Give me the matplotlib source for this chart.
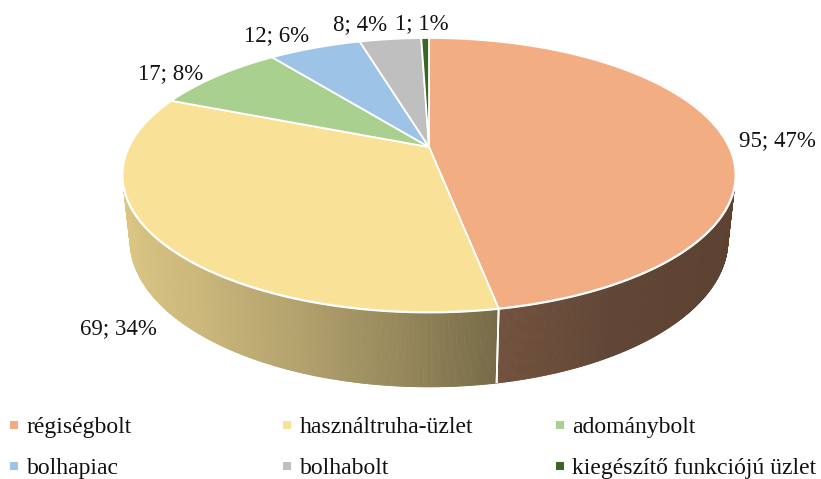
import numpy as np
import matplotlib
matplotlib.use("Agg")
import matplotlib.pyplot as plt
from matplotlib.patches import Polygon
from matplotlib.collections import PolyCollection
from matplotlib.colors import to_rgb

# ---------------- data ----------------
categories = ["régiségbolt", "használtruha-üzlet", "adománybolt",
              "bolhapiac", "bolhabolt", "kiegészítő funkciójú üzlet"]
values = [95, 69, 17, 12, 8, 1]
percents = [47, 34, 8, 6, 4, 1]

# ---------------- style ----------------
top_colors = ["#F2AD83", "#F9E197", "#A9D08E", "#9DC3E6", "#BFBFBF", "#3B6427"]
# label nudges (pixels, screen) relative to projected mid-angle point
label_nudge = [(55, 4), (-44, 84), (-46, -4), (-38, -14), (-30, -16), (-3, -16)]
FONT = ["Liberation Serif", "DejaVu Serif"]

W, H = 821, 479
fig = plt.figure(figsize=(W / 100, H / 100), dpi=100)
ax = fig.add_axes([0, 0, 1, 1])
ax.set_xlim(0, W)
ax.set_ylim(H, 0)
ax.axis("off")

# perspective camera for the 3D pie
CX, CY = 429.0, 147.0
ALPHA = np.arcsin(0.4377)
LDIST = 4.397
FOC = 1319.0
THICK = 0.242


def proj(X, Z, Y=0.0):
    den = LDIST + Z * np.cos(ALPHA) - Y * np.sin(ALPHA)
    x = FOC * X / den
    yup = FOC * (Y * np.cos(ALPHA) + Z * np.sin(ALPHA)) / den
    return CX + x, CY - yup


total = float(sum(values))
cum = np.concatenate([[0], np.cumsum(values)])
theta = 90.0 - cum / total * 360.0  # clockwise from 12 o'clock

# visible side range (degrees, mod 360)
smin = -1.0 / (LDIST * np.cos(ALPHA))
vis_lo = 180 + np.degrees(np.arcsin(-smin))
vis_hi = 360 - np.degrees(np.arcsin(-smin))


def shade(phi):
    return np.interp(phi, [190, 205, 228, 249, 266, 281, 300, 346, 360],
                     [0.88, 0.87, 0.82, 0.72, 0.60, 0.47, 0.40, 0.38, 0.38])


# ---- side faces ----
for i in range(len(values)):
    a0, a1 = theta[i], theta[i + 1]
    n = max(int(abs(a0 - a1) / 0.25), 2)
    phis = np.linspace(a0, a1, n + 1)
    base = np.array(to_rgb(top_colors[i]))
    polys, cols = [], []
    for p, q in zip(phis[:-1], phis[1:]):
        pm, qm = p % 360, q % 360
        if not (vis_lo <= pm <= vis_hi and vis_lo <= qm <= vis_hi):
            continue
        rp, rq = np.radians(p), np.radians(q)
        t1 = proj(np.cos(rp), np.sin(rp))
        t2 = proj(np.cos(rq), np.sin(rq))
        b2 = proj(np.cos(rq), np.sin(rq), -THICK)
        b1 = proj(np.cos(rp), np.sin(rp), -THICK)
        polys.append([t1, t2, b2, b1])
        cols.append(np.clip(base * shade(((p + q) / 2) % 360), 0, 1))
    if polys:
        pc = PolyCollection(polys, facecolors=cols, edgecolors=cols,
                            linewidths=0.6, antialiased=True, zorder=1)
        ax.add_collection(pc)
    # vertical white edge at slice boundaries on side
    for a in (a0, a1):
        if vis_lo < a % 360 < vis_hi:
            r = np.radians(a)
            t = proj(np.cos(r), np.sin(r))
            b = proj(np.cos(r), np.sin(r), -THICK)
            ax.plot([t[0], b[0]], [t[1], b[1]], color="white", lw=1.3,
                    zorder=2, solid_capstyle="butt")

# white rim along front top edge
rim = np.radians(np.linspace(vis_lo - 8, vis_hi + 8, 300))
rx, ry = proj(np.cos(rim), np.sin(rim))
ax.plot(rx, ry, color="white", lw=2.0, zorder=3)

# ---- top faces ----
for i in range(len(values)):
    phis = np.radians(np.linspace(theta[i], theta[i + 1], 200))
    xs, ys = proj(np.cos(phis), np.sin(phis))
    pts = np.column_stack([np.concatenate([[CX], xs]),
                           np.concatenate([[CY], ys])])
    ax.add_patch(Polygon(pts, closed=True, facecolor=top_colors[i],
                         edgecolor="white", lw=1.3, joinstyle="round",
                         zorder=4))

# ---- data labels ----
for i in range(len(values)):
    mid = np.radians((theta[i] + theta[i + 1]) / 2)
    px, py = proj(np.cos(mid), np.sin(mid))
    dx, dy = label_nudge[i]
    ax.text(px + dx, py + dy + 7.5, f"{values[i]}; {percents[i]}%",
            ha="center", va="baseline", fontsize=16.5, family=FONT,
            color="#111111", zorder=6)

# ---- legend ----
col_x = [14, 287, 560]
row_marker_y = [424.5, 466]
row_base_y = [433, 474]
for i, cat in enumerate(categories):
    r, c = divmod(i, 3)
    ax.scatter([col_x[c]], [row_marker_y[r]], marker="s", s=28,
               color=top_colors[i], linewidths=0, zorder=6)
    ax.text(col_x[c] + 12.5, row_base_y[r], cat, ha="left", va="baseline",
            fontsize=17, family=FONT, color="#111111", zorder=6)

fig.savefig("out.png", dpi=100)
